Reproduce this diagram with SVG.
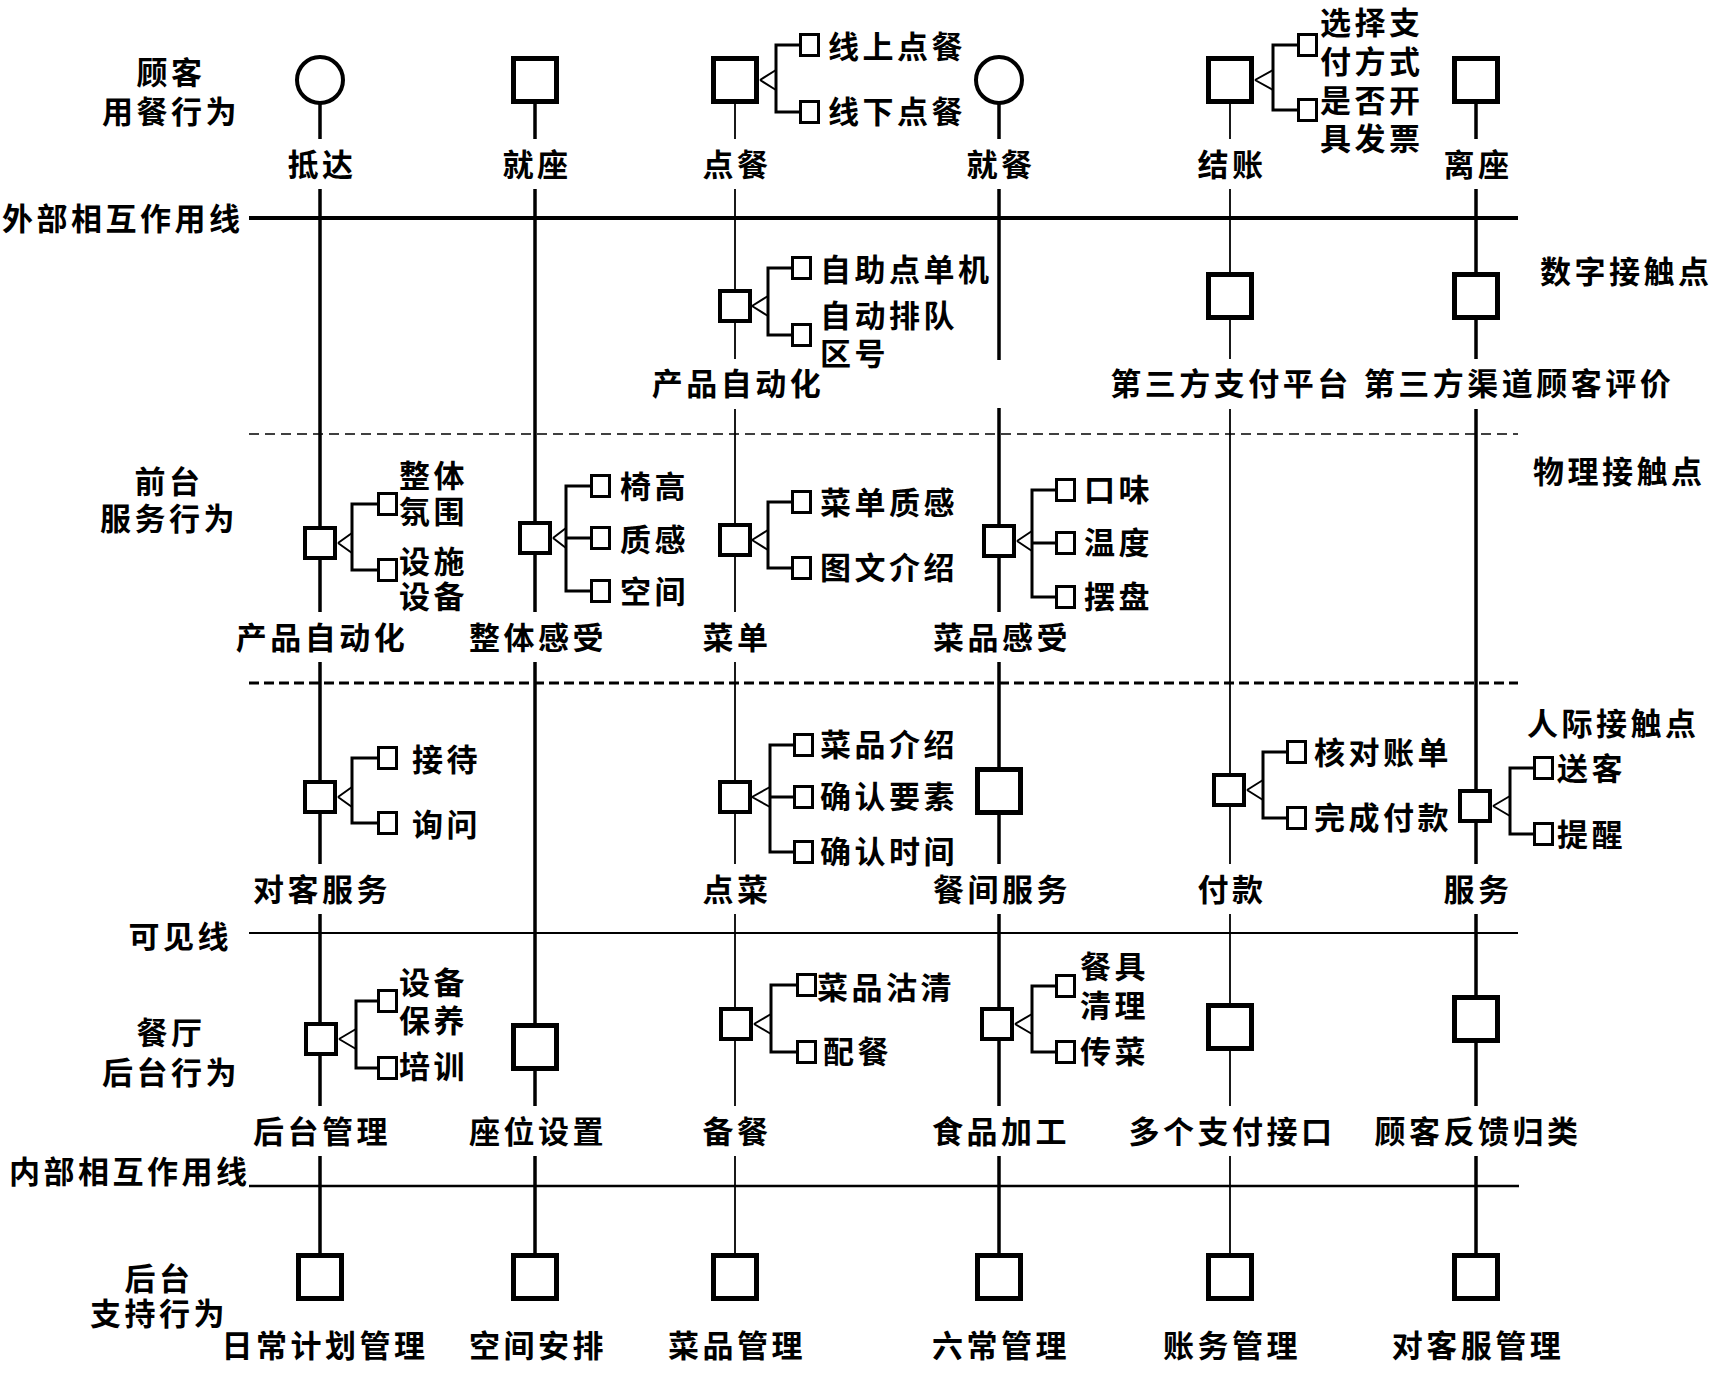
<svg xmlns="http://www.w3.org/2000/svg" width="1711" height="1388" viewBox="0 0 1711 1388">
<style>
text{font-family:"Noto Sans CJK SC","Noto Sans",sans-serif;font-size:31px;font-weight:700;fill:#000;letter-spacing:3.5px}
.m{text-anchor:middle}
.e{text-anchor:end}
.big{fill:#fff;stroke:#000;stroke-width:5}
.sm{fill:#fff;stroke:#000;stroke-width:4}
.sub{fill:#fff;stroke:#000;stroke-width:3}
.cir{fill:#fff;stroke:#000;stroke-width:4}
.br{fill:none;stroke:#000;stroke-width:3}
.lt{fill:none;stroke:#000;stroke-width:2}
.thick{stroke:#000;stroke-width:3.5}
.thin{stroke:#000;stroke-width:1.8}
</style>
<rect width="1711" height="1388" fill="#fff"/>

<g id="swimlane-lines">
<line x1="249" y1="218" x2="1518" y2="218" stroke="#000" stroke-width="4"/>
<line x1="249" y1="434" x2="1518" y2="434" stroke="#000" stroke-width="1.6" stroke-dasharray="10 6"/>
<line x1="249" y1="683" x2="1518" y2="683" stroke="#000" stroke-width="3" stroke-dasharray="10 5"/>
<line x1="249" y1="933" x2="1518" y2="933" stroke="#000" stroke-width="1.8"/>
<line x1="249" y1="1186" x2="1519" y2="1186" stroke="#000" stroke-width="2.7"/>
</g>

<g id="lane-labels">
<text class="m" x="171" y="84">顾客</text>
<text class="m" x="171" y="123">用餐行为</text>
<text x="2" y="230">外部相互作用线</text>
<text class="m" x="169" y="493">前台</text>
<text class="m" x="169" y="530">服务行为</text>
<text class="e" x="232" y="948">可见线</text>
<text class="m" x="171" y="1044">餐厅</text>
<text class="m" x="171" y="1084">后台行为</text>
<text x="9" y="1183">内部相互作用线</text>
<text class="m" x="159" y="1290">后台</text>
<text class="m" x="159" y="1325">支持行为</text>
<text x="1540" y="283">数字接触点</text>
<text x="1533" y="483">物理接触点</text>
<text x="1527" y="735">人际接触点</text>
</g>

<g id="connectors">
<line class="thick" x1="320" y1="103" x2="320" y2="139"/>
<line class="thick" x1="320" y1="189" x2="320" y2="612"/>
<line class="thick" x1="320" y1="662" x2="320" y2="864"/>
<line class="thick" x1="320" y1="914" x2="320" y2="1106"/>
<line class="thick" x1="320" y1="1156" x2="320" y2="1253"/>
<line class="thick" x1="535" y1="104" x2="535" y2="139"/>
<line class="thick" x1="535" y1="189" x2="535" y2="612"/>
<line class="thick" x1="535" y1="662" x2="535" y2="1106"/>
<line class="thick" x1="535" y1="1156" x2="535" y2="1253"/>
<line class="thin" x1="735" y1="104" x2="735" y2="139"/>
<line class="thin" x1="735" y1="189" x2="735" y2="359"/>
<line class="thin" x1="735" y1="409" x2="735" y2="612"/>
<line class="thin" x1="735" y1="662" x2="735" y2="864"/>
<line class="thin" x1="735" y1="914" x2="735" y2="1106"/>
<line class="thin" x1="735" y1="1156" x2="735" y2="1253"/>
<line class="thick" x1="999" y1="103" x2="999" y2="139"/>
<line class="thick" x1="999" y1="189" x2="999" y2="360"/>
<line class="thick" x1="999" y1="408" x2="999" y2="612"/>
<line class="thick" x1="999" y1="662" x2="999" y2="864"/>
<line class="thick" x1="999" y1="914" x2="999" y2="1106"/>
<line class="thick" x1="999" y1="1156" x2="999" y2="1253"/>
<line class="thin" x1="1230" y1="104" x2="1230" y2="139"/>
<line class="thin" x1="1230" y1="189" x2="1230" y2="359"/>
<line class="thin" x1="1230" y1="409" x2="1230" y2="864"/>
<line class="thin" x1="1230" y1="914" x2="1230" y2="1106"/>
<line class="thin" x1="1230" y1="1156" x2="1230" y2="1253"/>
<line class="thick" x1="1476" y1="104" x2="1476" y2="139"/>
<line class="thick" x1="1476" y1="189" x2="1476" y2="359"/>
<line class="thick" x1="1476" y1="409" x2="1476" y2="864"/>
<line class="thick" x1="1476" y1="914" x2="1476" y2="1106"/>
<line class="thick" x1="1476" y1="1156" x2="1476" y2="1253"/>
</g>

<g id="n-arrive">
<circle class="cir" cx="320" cy="80" r="23"/>
<text class="m" x="322" y="176">抵达</text>
</g>
<g id="n-seat">
<rect class="big" x="513.5" y="58.5" width="43" height="43"/>
<text class="m" x="537" y="176">就座</text>
</g>
<g id="n-order">
<rect class="big" x="713.5" y="58.5" width="43" height="43"/>
<path class="lt" d="M760 80 L776 70 M760 80 L776 90"/>
<path class="br" d="M799 45 H776 V112 H799"/>
<rect class="sub" x="800.5" y="34.5" width="18" height="21"/>
<rect class="sub" x="800.5" y="101.5" width="18" height="21"/>
<text x="828" y="58">线上点餐</text>
<text x="828" y="123">线下点餐</text>
<text class="m" x="737" y="176">点餐</text>
</g>
<g id="n-dine">
<circle class="cir" cx="999" cy="80" r="23"/>
<text class="m" x="1001" y="176">就餐</text>
</g>
<g id="n-checkout">
<rect class="big" x="1208.5" y="58.5" width="43" height="43"/>
<path class="lt" d="M1255 80 L1273 70 M1255 80 L1273 90"/>
<path class="br" d="M1297 45 H1273 V110 H1297"/>
<rect class="sub" x="1298.5" y="34.5" width="18" height="21"/>
<rect class="sub" x="1298.5" y="99.5" width="18" height="21"/>
<text x="1320" y="34">选择支</text>
<text x="1320" y="73">付方式</text>
<text x="1320" y="112">是否开</text>
<text x="1320" y="150">具发票</text>
<text class="m" x="1232" y="176">结账</text>
</g>
<g id="n-leave">
<rect class="big" x="1454.5" y="58.5" width="43" height="43"/>
<text class="m" x="1478" y="176">离座</text>
</g>

<g id="n-auto-digital">
<rect class="sm" x="720" y="291" width="30" height="30"/>
<path class="lt" d="M752 306 L768 296 M752 306 L768 316"/>
<path class="br" d="M791 268 H768 V335 H791"/>
<rect class="sub" x="792.5" y="257.5" width="18" height="21"/>
<rect class="sub" x="792.5" y="324.5" width="18" height="21"/>
<text x="820" y="281">自助点单机</text>
<text x="820" y="327">自动排队</text>
<text x="820" y="365">区号</text>
<text class="m" x="738" y="395">产品自动化</text>
</g>
<g id="n-pay-platform">
<rect class="big" x="1208.5" y="274.5" width="43" height="43"/>
<text class="m" x="1231" y="395">第三方支付平台</text>
</g>
<g id="n-review">
<rect class="big" x="1454.5" y="274.5" width="43" height="43"/>
<text class="m" x="1519" y="395">第三方渠道顾客评价</text>
</g>

<g id="n-auto-physical">
<rect class="sm" x="305" y="528" width="30" height="30"/>
<path class="lt" d="M338 543 L352 533 M338 543 L352 553"/>
<path class="br" d="M377 504 H352 V570 H377"/>
<rect class="sub" x="378.5" y="493.5" width="18" height="21"/>
<rect class="sub" x="378.5" y="559.5" width="18" height="21"/>
<text x="399" y="487">整体</text>
<text x="399" y="523">氛围</text>
<text x="399" y="573">设施</text>
<text x="399" y="608">设备</text>
<text class="m" x="322" y="649">产品自动化</text>
</g>
<g id="n-overall">
<rect class="sm" x="520" y="523" width="30" height="30"/>
<path class="lt" d="M553 538 L566 528 M553 538 L566 548"/>
<path class="br" d="M590 486 H566 V591 H590 M566 538 H590"/>
<rect class="sub" x="591.5" y="475.5" width="18" height="21"/>
<rect class="sub" x="591.5" y="527.5" width="18" height="21"/>
<rect class="sub" x="591.5" y="580.5" width="18" height="21"/>
<text x="620" y="498">椅高</text>
<text x="620" y="551">质感</text>
<text x="620" y="603">空间</text>
<text class="m" x="538" y="649">整体感受</text>
</g>
<g id="n-menu">
<rect class="sm" x="720" y="525" width="30" height="30"/>
<path class="lt" d="M752 540 L768 530 M752 540 L768 550"/>
<path class="br" d="M791 502 H768 V568 H791"/>
<rect class="sub" x="792.5" y="491.5" width="18" height="21"/>
<rect class="sub" x="792.5" y="557.5" width="18" height="21"/>
<text x="820" y="514">菜单质感</text>
<text x="820" y="579">图文介绍</text>
<text class="m" x="737" y="649">菜单</text>
</g>
<g id="n-dish-feel">
<rect class="sm" x="984" y="526" width="30" height="30"/>
<path class="lt" d="M1017 541 L1032 531 M1017 541 L1032 551"/>
<path class="br" d="M1055 490 H1032 V597 H1055 M1032 543 H1055"/>
<rect class="sub" x="1056.5" y="479.5" width="18" height="21"/>
<rect class="sub" x="1056.5" y="532.5" width="18" height="21"/>
<rect class="sub" x="1056.5" y="586.5" width="18" height="21"/>
<text x="1084" y="501">口味</text>
<text x="1084" y="554">温度</text>
<text x="1084" y="608">摆盘</text>
<text class="m" x="1002" y="649">菜品感受</text>
</g>

<g id="n-guest-service">
<rect class="sm" x="305" y="782" width="30" height="30"/>
<path class="lt" d="M338 797 L352 787 M338 797 L352 807"/>
<path class="br" d="M377 758 H352 V823 H377"/>
<rect class="sub" x="378.5" y="747.5" width="18" height="21"/>
<rect class="sub" x="378.5" y="812.5" width="18" height="21"/>
<text x="412" y="771">接待</text>
<text x="412" y="836">询问</text>
<text class="m" x="322" y="901">对客服务</text>
</g>
<g id="n-ordering">
<rect class="sm" x="720" y="782" width="30" height="30"/>
<path class="lt" d="M752 797 L770 787 M752 797 L770 807"/>
<path class="br" d="M793 745 H770 V852 H793 M770 797 H793"/>
<rect class="sub" x="794.5" y="734.5" width="18" height="21"/>
<rect class="sub" x="794.5" y="786.5" width="18" height="21"/>
<rect class="sub" x="794.5" y="841.5" width="18" height="21"/>
<text x="820" y="756">菜品介绍</text>
<text x="820" y="808">确认要素</text>
<text x="820" y="863">确认时间</text>
<text class="m" x="737" y="901">点菜</text>
</g>
<g id="n-meal-service">
<rect class="big" x="977.5" y="769.5" width="43" height="43"/>
<text class="m" x="1002" y="901">餐间服务</text>
</g>
<g id="n-payment">
<rect class="sm" x="1214" y="775" width="30" height="30"/>
<path class="lt" d="M1247 790 L1263 780 M1247 790 L1263 800"/>
<path class="br" d="M1286 752 H1263 V818 H1286"/>
<rect class="sub" x="1287.5" y="741.5" width="18" height="21"/>
<rect class="sub" x="1287.5" y="807.5" width="18" height="21"/>
<text x="1314" y="764">核对账单</text>
<text x="1314" y="829">完成付款</text>
<text class="m" x="1232" y="901">付款</text>
</g>
<g id="n-service">
<rect class="sm" x="1460" y="791" width="30" height="30"/>
<path class="lt" d="M1493 806 L1510 796 M1493 806 L1510 816"/>
<path class="br" d="M1533 768 H1510 V834 H1533"/>
<rect class="sub" x="1534.5" y="757.5" width="18" height="21"/>
<rect class="sub" x="1534.5" y="823.5" width="18" height="21"/>
<text x="1557" y="780">送客</text>
<text x="1557" y="846">提醒</text>
<text class="m" x="1478" y="901">服务</text>
</g>

<g id="n-back-mgmt">
<rect class="sm" x="306" y="1024" width="30" height="30"/>
<path class="lt" d="M339 1039 L356 1029 M339 1039 L356 1049"/>
<path class="br" d="M377 1001 H356 V1068 H377"/>
<rect class="sub" x="378.5" y="990.5" width="18" height="21"/>
<rect class="sub" x="378.5" y="1057.5" width="18" height="21"/>
<text x="399" y="994">设备</text>
<text x="399" y="1032">保养</text>
<text x="399" y="1078">培训</text>
<text class="m" x="322" y="1143">后台管理</text>
</g>
<g id="n-seating">
<rect class="big" x="513.5" y="1025.5" width="43" height="43"/>
<text class="m" x="538" y="1143">座位设置</text>
</g>
<g id="n-prep">
<rect class="sm" x="721" y="1009" width="30" height="30"/>
<path class="lt" d="M754 1024 L771 1014 M754 1024 L771 1034"/>
<path class="br" d="M796 985 H771 V1052 H796"/>
<rect class="sub" x="797.5" y="974.5" width="18" height="21"/>
<rect class="sub" x="797.5" y="1041.5" width="18" height="21"/>
<text x="817" y="999">菜品沽清</text>
<text x="823" y="1063">配餐</text>
<text class="m" x="737" y="1143">备餐</text>
</g>
<g id="n-food">
<rect class="sm" x="982" y="1009" width="30" height="30"/>
<path class="lt" d="M1015 1024 L1032 1014 M1015 1024 L1032 1034"/>
<path class="br" d="M1055 986 H1032 V1052 H1055"/>
<rect class="sub" x="1056.5" y="975.5" width="18" height="21"/>
<rect class="sub" x="1056.5" y="1041.5" width="18" height="21"/>
<text x="1080" y="978">餐具</text>
<text x="1080" y="1017">清理</text>
<text x="1080" y="1063">传菜</text>
<text class="m" x="1001" y="1143">食品加工</text>
</g>
<g id="n-pay-api">
<rect class="big" x="1208.5" y="1005.5" width="43" height="43"/>
<text class="m" x="1232" y="1143">多个支付接口</text>
</g>
<g id="n-feedback">
<rect class="big" x="1454.5" y="997.5" width="43" height="43"/>
<text class="m" x="1478" y="1143">顾客反馈归类</text>
</g>

<g id="n-plan">
<rect class="big" x="298.5" y="1255.5" width="43" height="43"/>
<text class="m" x="325" y="1357">日常计划管理</text>
</g>
<g id="n-space">
<rect class="big" x="513.5" y="1255.5" width="43" height="43"/>
<text class="m" x="538" y="1357">空间安排</text>
</g>
<g id="n-dish-mgmt">
<rect class="big" x="713.5" y="1255.5" width="43" height="43"/>
<text class="m" x="737" y="1357">菜品管理</text>
</g>
<g id="n-6s">
<rect class="big" x="977.5" y="1255.5" width="43" height="43"/>
<text class="m" x="1001" y="1357">六常管理</text>
</g>
<g id="n-accounts">
<rect class="big" x="1208.5" y="1255.5" width="43" height="43"/>
<text class="m" x="1232" y="1357">账务管理</text>
</g>
<g id="n-guest-mgmt">
<rect class="big" x="1454.5" y="1255.5" width="43" height="43"/>
<text class="m" x="1478" y="1357">对客服管理</text>
</g>
</svg>
